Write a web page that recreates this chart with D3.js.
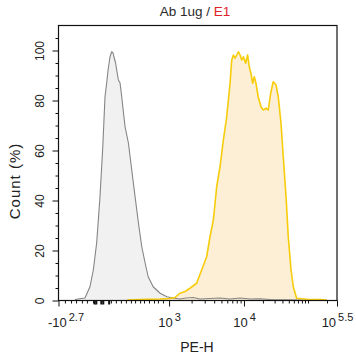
<!DOCTYPE html>
<html>
<head>
<meta charset="utf-8">
<script src="https://cdn.jsdelivr.net/npm/d3@7/dist/d3.min.js"></script>
<style>
  html, body { margin: 0; padding: 0; background: #ffffff; }
  svg { display: block; font-family: "Liberation Sans", Arial, sans-serif; }
</style>
</head>
<body>
<svg id="chart" width="356" height="360"></svg>
<script>
// ---- data (x in display channel units 0..1000, y in % of max count) ----
const controlX = [59, 70, 95, 113, 125, 137, 149, 159, 167, 173, 178, 185, 191, 196, 199, 205, 209, 215, 221, 227, 233, 239, 251, 263, 275, 287, 299, 311, 322, 340, 365, 389, 411, 436, 458, 483, 508, 544, 580, 616, 652, 688, 724, 760, 814, 867, 880];
const controlY = [0.4, 0.6, 1.0, 5.5, 12.2, 23.0, 41.5, 61.5, 81.5, 87.0, 92.2, 97.5, 99.5, 99.0, 97.5, 95.0, 92.2, 88.2, 87.0, 81.5, 75.4, 69.5, 63.0, 52.2, 41.5, 31.0, 21.5, 15.0, 9.5, 5.5, 2.9, 1.5, 1.0, 0.6, 1.0, 1.2, 0.6, 0.8, 1.0, 0.6, 1.0, 0.6, 0.7, 0.4, 0.3, 0.2, 0];
const sampleX = [246, 293, 365, 400, 418, 436, 454, 472, 496, 514, 532, 544, 556, 568, 580, 592, 604, 616, 622, 628, 634, 640, 646, 652, 658, 664, 672, 679, 685, 691, 697, 703, 709, 717, 727, 735, 745, 753, 762, 771, 781, 789, 799, 807, 817, 825, 835, 843, 855, 891, 939, 963];
const sampleY = [0.2, 0.4, 0.6, 0.8, 1.2, 2.9, 3.6, 4.9, 6.9, 12.2, 17.5, 25.5, 32.2, 45.5, 53.5, 64.2, 73.5, 86.9, 96.2, 98.2, 96.9, 98.2, 99.5, 98.2, 96.2, 97.5, 94.9, 98.2, 93.5, 90.9, 86.9, 89.5, 86.9, 81.5, 77.5, 76.2, 76.9, 76.2, 82.9, 87.5, 86.2, 81.5, 70.9, 57.5, 41.5, 25.5, 12.2, 5.5, 0.9, 0.5, 0.4, 0.2];

// x axis ticks (channel positions) and labels
const xMajorTicks = [0, 397, 666, 1000];
const xMajorBase = ["-10", "10", "10", "10"];
const xMajorExp = ["2.7", "3", "4", "5.5"];
const xMidTicks = [128, 134, 152, 159, 180];
const xMinorTicks = [23, 45, 63, 84, 102, 124, 188, 206, 224, 242, 260, 275, 293, 307, 325, 343, 357, 375,
  478, 525, 559, 585, 606, 624, 640, 654, 734, 776, 804, 827, 845, 860, 874, 885, 896, 964];
// y axis ticks
const yMajorTicks = [0, 20, 40, 60, 80, 100];
const yMinorTicks = [5, 10, 15, 25, 30, 35, 45, 50, 55, 65, 70, 75, 85, 90, 95, 105];

const titleMain = "Ab 1ug / ";
const titleSample = "E1";
const xTitle = "PE-H";
const yTitle = "Count (%)";

// ---- layout ----
const svg = d3.select("#chart");
const L = 58.5, R = 337, T = 25.5, B = 300.5;
const x = d3.scaleLinear().domain([0, 1000]).range([L, R]);
const y = d3.scaleLinear().domain([0, 110]).range([B, T]);

const areaGen = d3.area().x(d => x(d[0])).y0(y(0)).y1(d => y(d[1]));
const lineGen = d3.line().x(d => x(d[0])).y(d => y(d[1]));

const control = controlX.map((v, i) => [v, controlY[i]]);
const sample = sampleX.map((v, i) => [v, sampleY[i]]);

const g = svg.append("g");
g.append("path").datum(control).attr("d", areaGen).attr("fill", "#f1f1f1");
g.append("path").datum(sample).attr("d", areaGen).attr("fill", "#fdefd6");
g.append("path").datum(control).attr("d", lineGen).attr("fill", "none")
  .attr("stroke", "#858585").attr("stroke-width", 1.1).attr("stroke-linejoin", "round");
g.append("path").datum(sample).attr("d", lineGen).attr("fill", "none")
  .attr("stroke", "#f7cc0a").attr("stroke-width", 1.6).attr("stroke-linejoin", "round");

// frame
svg.append("rect").attr("x", L).attr("y", T).attr("width", R - L).attr("height", B - T)
  .attr("fill", "none").attr("stroke", "#111").attr("stroke-width", 1.2);

// y axis
const yAxisMajor = d3.axisLeft(y).tickValues(yMajorTicks).tickSize(6).tickFormat(d3.format("d"));
const yAx = svg.append("g").attr("transform", `translate(${L},0)`).call(yAxisMajor);
yAx.select(".domain").remove();
yAx.selectAll(".tick line").attr("stroke", "#111");
yAx.selectAll(".tick text")
  .attr("font-size", 12).attr("fill", "#222")
  .attr("text-anchor", "middle")
  .attr("x", 0).attr("y", 0).attr("dx", null).attr("dy", null)
  .attr("transform", "translate(-15,0) rotate(-90)");
const yAxisMinor = d3.axisLeft(y).tickValues(yMinorTicks).tickSize(3).tickFormat("");
const yAxm = svg.append("g").attr("transform", `translate(${L},0)`).call(yAxisMinor);
yAxm.select(".domain").remove();
yAxm.selectAll(".tick line").attr("stroke", "#111");

// x axis
const xAxisMinor = d3.axisBottom(x).tickValues(xMinorTicks).tickSize(3).tickFormat("");
const xAxm = svg.append("g").attr("transform", `translate(0,${B})`).call(xAxisMinor);
xAxm.select(".domain").remove();
xAxm.selectAll(".tick line").attr("stroke", "#111");
const xAxisMid = d3.axisBottom(x).tickValues(xMidTicks).tickSize(4).tickFormat("");
const xAxd = svg.append("g").attr("transform", `translate(0,${B})`).call(xAxisMid);
xAxd.select(".domain").remove();
xAxd.selectAll(".tick line").attr("stroke", "#111").attr("stroke-width", 2);
const xAxisMajor = d3.axisBottom(x).tickValues(xMajorTicks).tickSize(6).tickFormat("");
const xAx = svg.append("g").attr("transform", `translate(0,${B})`).call(xAxisMajor);
xAx.select(".domain").remove();
xAx.selectAll(".tick line").attr("stroke", "#111");
xAx.selectAll(".tick").each(function (d, i) {
  const t = d3.select(this).append("text")
    .attr("x", i === 0 ? 7 : 0)
    .attr("y", 26).attr("text-anchor", "middle").attr("fill", "#222")
    .attr("font-size", 13);
  t.append("tspan").text(xMajorBase[i]);
  t.append("tspan").attr("font-size", 11).attr("dy", -6).attr("dx", 2).text(xMajorExp[i]);
});

// titles
const title = svg.append("text").attr("x", 195).attr("y", 16).attr("text-anchor", "middle")
  .attr("font-size", 13.5).attr("fill", "#2a2a2a");
title.append("tspan").text(titleMain);
title.append("tspan").attr("fill", "#e0222b").text(titleSample);

svg.append("text").attr("x", 197).attr("y", 352).attr("text-anchor", "middle")
  .attr("font-size", 14).attr("fill", "#222").text(xTitle);
svg.append("text").attr("transform", "translate(20,181) rotate(-90)").attr("text-anchor", "middle")
  .attr("font-size", 15).attr("letter-spacing", 1).attr("fill", "#222").text(yTitle);
</script>
</body>
</html>
